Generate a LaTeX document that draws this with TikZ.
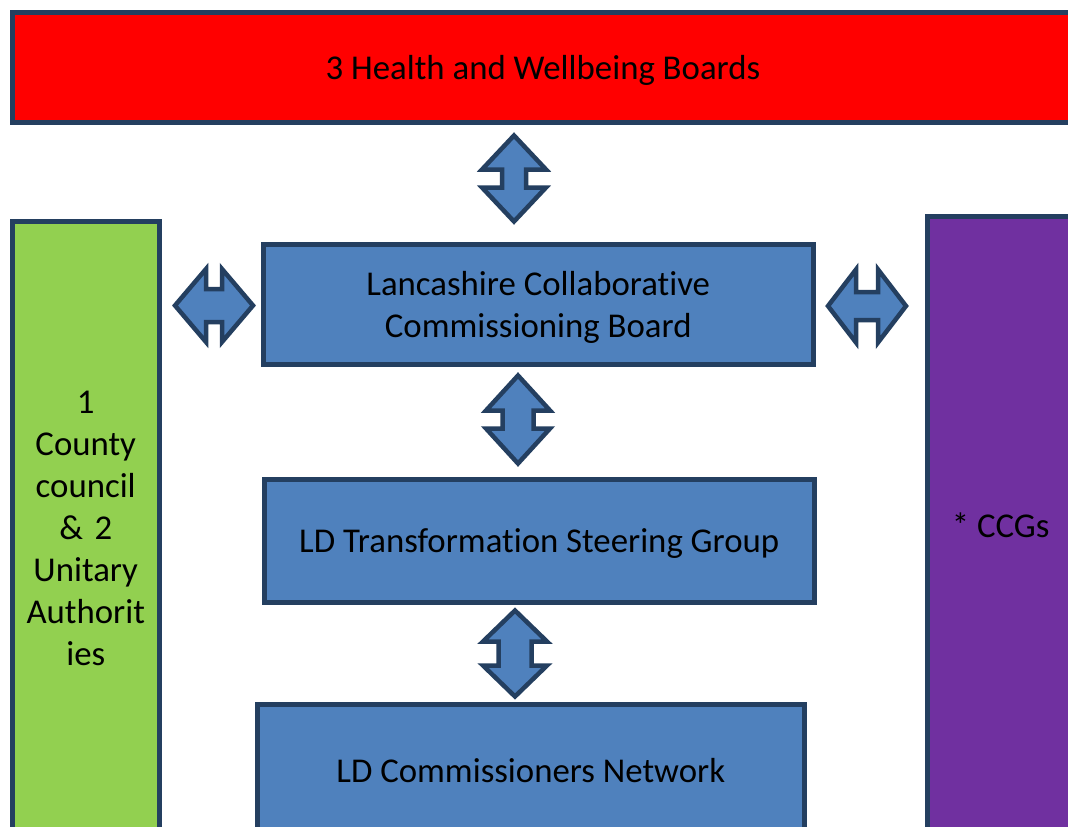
\documentclass[tikz,border=0pt]{standalone}
\usepackage{fontspec}
\setmainfont{Carlito}[Ligatures={NoCommon}]
\definecolor{strokec}{HTML}{243F60}
\definecolor{bluef}{HTML}{4F81BD}
\definecolor{redf}{HTML}{FF0000}
\definecolor{greenf}{HTML}{92D050}
\definecolor{purplef}{HTML}{7030A0}
\tikzset{
  box/.style={draw=strokec, line width=5pt, inner sep=0pt, align=center,
    font=\fontsize{34.8}{42}\selectfont, text=black},
  nodepth/.style={text depth=0pt},
  blockarrow/.style={draw=strokec, fill=bluef, line width=4.5pt, line join=miter}
}
\newcommand\blkarrow[6]{%
  \draw[blockarrow, shift={(#1)}, rotate=#2]
    ({-#3/2},0) -- ({-#3/2+#6},{#4/2}) -- ({-#3/2+#6},{#5/2}) -- ({#3/2-#6},{#5/2})
    -- ({#3/2-#6},{#4/2}) -- ({#3/2},0) -- ({#3/2-#6},{-#4/2}) -- ({#3/2-#6},{-#5/2})
    -- ({-#3/2+#6},{-#5/2}) -- ({-#3/2+#6},{-#4/2}) -- cycle;}
\begin{document}
\begin{tikzpicture}[x=1pt, y=-1pt]
\useasboundingbox (0,0) rectangle (1068,827);
\clip (0,0) rectangle (1068,827);
\fill[white] (0,0) rectangle (1068,827);
% boxes
\node[box, nodepth, fill=redf, minimum width=1062pt, minimum height=110.5pt] (hwb) at (543,67.25) {3 Health and Wellbeing Boards};
\node[box, fill=greenf, minimum width=147.5pt, minimum height=614.5pt, text width=140pt] (la) at (85.75,528.75)
  {1\\County\\council\\\& 2\\Unitary\\Authorit\\ies};
\node[box, nodepth, fill=purplef, minimum width=147.5pt, minimum height=618.5pt] (ccg) at (1000.75,525.5) {* CCGs};
\node[box, nodepth, fill=bluef, minimum width=549.5pt, minimum height=120.5pt] (lccb) at (538.25,304.25)
  {Lancashire Collaborative\\Commissioning Board};
\node[box, nodepth, fill=bluef, minimum width=549.5pt, minimum height=123pt] (ldtsg) at (539.25,541)
  {LD Transformation Steering Group};
\node[box, nodepth, fill=bluef, minimum width=547.5pt, minimum height=131.5pt] (ldcn) at (530.75,770.25)
  {LD Commissioners Network};
% block arrows
\coordinate (a1) at (514,178.5);
\coordinate (a2) at (518,419.5);
\coordinate (a3) at (515,653.5);
\coordinate (a4) at (214,305.5);
\coordinate (a5) at (867,306);
\blkarrow{a1}{90}{86}{64}{24}{34}
\blkarrow{a2}{90}{88}{64}{31}{35}
\blkarrow{a3}{90}{86}{64}{33}{31}
\blkarrow{a4}{0}{78}{73}{33}{31}
\blkarrow{a5}{0}{78}{73}{28}{28}
\end{tikzpicture}
\end{document}
